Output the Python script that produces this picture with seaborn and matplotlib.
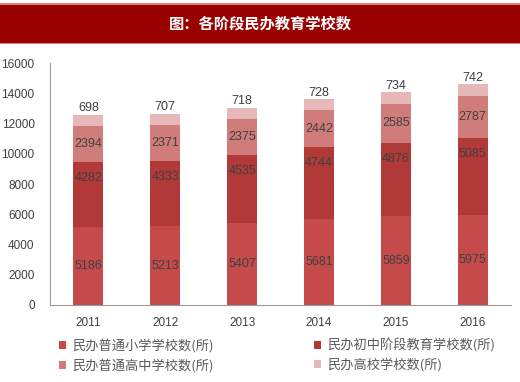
import numpy as np
import pandas as pd
import matplotlib
matplotlib.use("Agg")
import matplotlib.pyplot as plt
import seaborn as sns
from matplotlib.patches import Rectangle

years = ["2011", "2012", "2013", "2014", "2015", "2016"]
series_names = ["民办普通小学学校数(所)", "民办初中阶段教育学校数(所)",
                "民办普通高中学校数(所)", "民办高校学校数(所)"]
primary = [5186, 5213, 5407, 5681, 5859, 5975]
junior = [4282, 4333, 4535, 4744, 4876, 5085]
senior = [2394, 2371, 2375, 2442, 2585, 2787]
college = [698, 707, 718, 728, 734, 742]
colors = ["#C44B4A", "#B13A38", "#CF7C7A", "#E6B8B7"]

sns.set_theme(style="white")
plt.rcParams['font.family'] = ['Noto Sans CJK SC', 'DejaVu Sans']

df = pd.DataFrame({"year": years, "s1": primary, "s2": junior, "s3": senior, "s4": college})
cum = df[["s1", "s2", "s3", "s4"]].cumsum(axis=1)

fig = plt.figure(figsize=(5.2, 3.82), dpi=100)
ax = fig.add_axes([0.096, 0.2016, 0.887, 0.6334])

# draw tallest cumulative first so lower layers sit on top
for i in [3, 2, 1, 0]:
    sns.barplot(x=df["year"], y=cum.iloc[:, i], color=colors[i], width=0.39,
                saturation=1, ax=ax, edgecolor="none")

dark = "#404040"
vals = [primary, junior, senior, college]
for j in range(len(years)):
    ax.text(j, vals[0][j] / 2, str(vals[0][j]), ha="center", va="center",
            fontsize=9, color=dark, family="Liberation Sans")
    ax.text(j, cum.iloc[j, 1] - 1050, str(vals[1][j]), ha="center", va="center",
            fontsize=9, color=dark, family="Liberation Sans")
    ax.text(j, cum.iloc[j, 1] + vals[2][j] / 2, str(vals[2][j]), ha="center", va="center",
            fontsize=9, color=dark, family="Liberation Sans")
    ax.text(j, cum.iloc[j, 3] + 50, str(vals[3][j]), ha="center", va="bottom",
            fontsize=9, color=dark, family="Liberation Sans")

ax.set_ylim(0, 16000)
ax.set_xlim(-0.5, 5.5)
ax.set_yticks(range(0, 16001, 2000))
ax.set_xlabel("")
ax.set_ylabel("")
ax.tick_params(axis="both", length=0, labelsize=8.5, colors=dark)
ax.tick_params(axis="y", pad=11)
ax.tick_params(axis="x", pad=9)
for lab in ax.get_xticklabels() + ax.get_yticklabels():
    lab.set_family("Liberation Sans")
for s in ["top", "right"]:
    ax.spines[s].set_visible(False)
for s in ["left", "bottom"]:
    ax.spines[s].set_color("#9A9A9A")
    ax.spines[s].set_linewidth(0.8)

# title bar
fig.patches.append(Rectangle((0, 0.887), 1, 0.103, transform=fig.transFigure,
                             facecolor="#990000", edgecolor="none", zorder=0))
fig.patches.append(Rectangle((0, 0.987), 1, 0.004, transform=fig.transFigure,
                             facecolor="#D98080", edgecolor="none", zorder=0))
fig.patches.append(Rectangle((0, 0.884), 1, 0.004, transform=fig.transFigure,
                             facecolor="#D98080", edgecolor="none", zorder=0))
fig.text(0.5, 0.938, "图：各阶段民办教育学校数", ha="center", va="center",
         color="white", fontsize=11, fontweight="bold")

handles = [Rectangle((0, 0), 1, 1, facecolor=c, edgecolor="none") for c in colors]
order = [0, 2, 1, 3]
leg = fig.legend([handles[k] for k in order], [series_names[k] for k in order],
                 loc="center left", bbox_to_anchor=(0.113, 0.070), ncol=2,
                 frameon=False, fontsize=9.5, handlelength=0.55, handleheight=0.55,
                 handletextpad=0.45, columnspacing=7.6, labelspacing=0.45,
                 borderaxespad=0, borderpad=0)
for t in leg.get_texts():
    t.set_color("#595959")

fig.savefig("out.png", dpi=100)
